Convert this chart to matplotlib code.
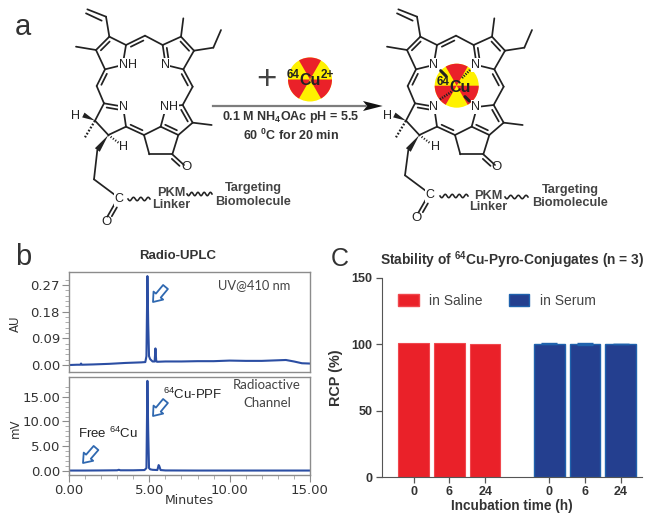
import numpy as np
import matplotlib
matplotlib.use('Agg')
import matplotlib.pyplot as plt
from matplotlib.patches import Wedge, Circle, Polygon, FancyArrowPatch, Patch

plt.rcParams['font.family'] = 'Liberation Sans'
plt.rcParams['mathtext.fontset'] = 'custom'
plt.rcParams['mathtext.rm'] = 'Liberation Sans'
plt.rcParams['mathtext.bf'] = 'Liberation Sans:bold'
plt.rcParams['mathtext.it'] = 'Liberation Sans:italic'

W, H = 648, 518

# panel b, UV trace
uv_time = [0, 0.5, 0.7, 0.75, 0.8, 1.5, 2.5, 3.5, 4.5, 4.75, 4.82, 4.88, 4.93, 4.98, 5.05, 5.2,
           5.33, 5.38, 5.43, 5.5, 6, 7, 8, 9, 10, 11, 12, 13, 13.5, 14, 14.5, 15]
uv_au = [0.0, 0.001, 0.001, 0.005, 0.001, 0.002, 0.004, 0.007, 0.009, 0.01, 0.03, 0.30, 0.14, 0.03, 0.02, 0.012,
         0.012, 0.056, 0.012, 0.011, 0.012, 0.012, 0.013, 0.013, 0.015, 0.014, 0.014, 0.016, 0.017, 0.012, 0.006, 0.005]

# panel b, radioactive trace
rad_time = [0, 1, 2, 3, 3.1, 3.2, 4, 4.7, 4.82, 4.88, 4.93, 4.98, 5.05, 5.2, 5.5, 5.58, 5.62, 5.7, 6, 8, 10, 12, 15]
rad_mv = [0.1, 0.1, 0.12, 0.15, 0.25, 0.15, 0.15, 0.2, 0.6, 18.2, 8.0, 0.6, 0.35, 0.25, 0.2, 1.2, 1.0, 0.2, 0.12, 0.1, 0.1, 0.1, 0.1]

# panel c
bar_pos = [0, 1, 2, 3.8, 4.8, 5.8]
saline = [100.7, 100.9, 100.4]
serum = [100.4, 100.2, 100.2]
serum_err = [0.1, 0.7, 0.1]
bar_labels = ['0', '6', '24', '0', '6', '24']

BLUE = '#2b4ea3'
RED = '#ea2129'
YEL = '#fff100'
DARK = '#222222'
GREY = '#7d7d7d'


def box(x0, y0, x1, y1):
    return [x0 / W, 1 - y1 / H, (x1 - x0) / W, (y1 - y0) / H]


fig = plt.figure(figsize=(6.48, 5.18), dpi=100)

# ---- panel b
ax1 = fig.add_axes(box(69, 272.3, 310, 371.7))
ax1.plot(uv_time, uv_au, color=BLUE, lw=1.5)
ax1.set_xlim(0, 15)
ax1.set_ylim(-0.0225, 0.3128)
ax1.set_yticks([0, 0.09, 0.18, 0.27])
ax1.set_yticklabels(['0.00', '0.09', '0.18', '0.27'])
ax1.set_yticks(np.arange(0, 0.3, 0.018), minor=True)
ax1.set_xticks([])

ax2 = fig.add_axes(box(69, 376.7, 310, 475))
ax2.plot(rad_time, rad_mv, color=BLUE, lw=1.5)
ax2.set_xlim(0, 15)
ax2.set_ylim(-0.8, 19.04)
ax2.set_yticks([0, 5, 10, 15])
ax2.set_yticklabels(['0.00', '5.00', '10.00', '15.00'])
ax2.set_yticks(np.arange(0, 18, 1), minor=True)
ax2.set_xticks([0, 5, 10, 15])
ax2.set_xticklabels(['0.00', '5.00', '10.00', '15.00'])
ax2.set_xticks(np.arange(0, 15, 1), minor=True)
ax2.set_xlabel('Minutes', family='DejaVu Sans', fontsize=9, color='#333333', labelpad=-2)

for ax in (ax1, ax2):
    for s in ax.spines.values():
        s.set_color('#8c8c8c')
        s.set_linewidth(1.0)
    ax.tick_params(which='major', length=5, width=0.8, color='#8c8c8c', labelsize=9.5, labelcolor='#333333', pad=1.5)
    ax.tick_params(which='minor', length=3, width=0.6, color='#a0a0a0')
    for t in ax.get_xticklabels() + ax.get_yticklabels():
        t.set_family('DejaVu Sans')
ax1.set_ylabel('AU', family='DejaVu Sans', fontsize=8.5, color='#333333')
ax2.set_ylabel('mV', family='DejaVu Sans', fontsize=8.5, color='#333333')
ax1.yaxis.set_label_coords(-47 / 241, 0.48)
ax2.yaxis.set_label_coords(-47 / 241, 0.48)

# ---- panel c
ax3 = fig.add_axes(box(381.7, 277.7, 641.7, 477))
ax3.bar(bar_pos[:3], saline, width=0.86, color=RED, edgecolor='#f0484e', lw=0.8)
ax3.bar(bar_pos[3:], serum, width=0.86, color='#243f8f', edgecolor='#1f62ad', lw=1.0,
        yerr=serum_err, ecolor='#1f62ad', capsize=6, error_kw={'lw': 0.8})
ax3.set_xlim(-0.9, 6.39)
ax3.set_ylim(0, 150)
ax3.set_yticks([0, 50, 100, 150])
ax3.set_xticks(bar_pos)
ax3.set_xticklabels(bar_labels)
ax3.spines['top'].set_visible(False)
ax3.spines['right'].set_visible(False)
ax3.spines['left'].set_color('#555555')
ax3.spines['bottom'].set_color('#555555')
ax3.tick_params(length=4, width=0.9, color='#555555', labelsize=9, labelcolor='#333333', pad=2.5)
for t in ax3.get_xticklabels() + ax3.get_yticklabels():
    t.set_fontweight('bold')
ax3.set_xlabel('Incubation time (h)', fontsize=9.8, fontweight='bold', color='#333333', labelpad=1)
ax3.set_ylabel('RCP (%)', fontsize=10.4, fontweight='bold', color='#333333')
ax3.yaxis.set_label_coords(-39 / 260, 0.5)
ax3.legend(handles=[Patch(facecolor=RED, edgecolor='#f0484e', label='in Saline'),
                    Patch(facecolor='#243f8f', edgecolor='#1f62ad', label='in Serum')],
           loc='upper left', bbox_to_anchor=(0.063, 0.92), ncol=2, frameon=False, fontsize=10,
           labelcolor='#444444', handlelength=1.5, handleheight=0.9, handletextpad=0.75,
           columnspacing=1.85, borderpad=0, borderaxespad=0)

# ---- overlay in pixel coordinates for the scheme and labels
ov = fig.add_axes([0, 0, 1, 1], zorder=10)
ov.set_xlim(0, W)
ov.set_ylim(H, 0)
ov.axis('off')


def line(p, q, dx=0, dy=0, lw=1.25, color=DARK, **kw):
    ov.plot([p[0] / 3 + dx, q[0] / 3 + dx], [p[1] / 3 + dy, q[1] / 3 + dy], color=color, lw=lw,
            solid_capstyle='round', **kw)


def double(p, q, toward, dx=0, dy=0):
    line(p, q, dx, dy)
    p_, q_, t = np.array(p, float), np.array(q, float), np.array(toward, float)
    d = q_ - p_
    n = np.array([-d[1], d[0]]) / np.hypot(*d)
    if np.dot(n, t - p_) < 0:
        n = -n
    a = p_ + 0.17 * d + 11 * n
    b = q_ - 0.17 * d + 11 * n
    line(a, b, dx, dy)


def wedge(tip, end, width, dx=0, dy=0, color=DARK):
    tip_, end_ = np.array(tip, float), np.array(end, float)
    d = end_ - tip_
    n = np.array([-d[1], d[0]]) / np.hypot(*d) * width
    pts = np.array([tip_, end_ + n, end_ - n]) / 3 + [dx, dy]
    ov.add_patch(Polygon(pts, closed=True, color=color, lw=0))


def squiggle(x0, x1, y):
    xs = np.linspace(x0, x1, 60)
    n = max(2, round((x1 - x0) / 7))
    ov.plot(xs, y + 1.7 * np.sin((xs - x0) / (x1 - x0) * n * 2 * np.pi), color=DARK, lw=1.15)


def label(x, y, s, size=9, **kw):
    kw.setdefault('color', DARK)
    kw.setdefault('ha', 'center')
    kw.setdefault('va', 'center')
    return ov.text(x, y, s, fontsize=size, **kw)


def porphyrin(dx, free_base, tail_dy):
    a = (330, 160)   # ring centres, zoomed pixels
    b = (535, 160)
    c = (530, 360)
    d = (330, 360)
    # vinyl and ring A
    line((318, 50), (328, 110), dx)
    line((318, 50), (262, 28), dx)
    line((305, 62), (258, 40), dx)
    double((328, 110), (288, 150), a, dx)
    line((228, 140), (288, 150), dx)
    line((288, 150), (315, 208), dx)
    line((315, 208), (368, 195), dx)
    line((378, 135), (368, 195), dx)
    line((328, 110), (378, 135), dx)
    double((378, 135), (435, 107), (435, 160), dx)
    # ring B
    line((435, 107), (488, 135), dx)
    line((488, 135), (543, 110), dx)
    double((488, 135), (497, 195), b, dx)
    line((543, 110), (550, 55), dx)
    double((543, 110), (582, 152), b, dx)
    line((582, 152), (640, 143), dx)
    line((640, 143), (663, 90), dx)
    line((582, 152), (550, 208), dx)
    line((550, 208), (497, 195), dx)
    double((550, 208), (578, 260), (520, 250), dx)
    line((578, 260), (548, 315), dx)
    # ring C and the five ring
    line((548, 315), (505, 320), dx)
    double((548, 315), (578, 368), c, dx)
    line((578, 368), (635, 375), dx)
    line((578, 368), (535, 405), dx)
    double((535, 405), (482, 380), (520, 360), dx)
    line((482, 380), (497, 325), dx)
    line((482, 380), (432, 405), dx)
    line((432, 405), (448, 463), dx)
    line((448, 463), (517, 463), dx)
    line((517, 463), (535, 405), dx)
    double((517, 463), (552, 495), (500, 490), dx)
    # ring D
    double((432, 405), (378, 380), (420, 350), dx)
    line((378, 380), (325, 405), dx)
    line((378, 380), (370, 325), dx)
    line((325, 405), (285, 362), dx)
    line((285, 362), (312, 310), dx)
    double((312, 310), (370, 320), d, dx)
    line((312, 310), (290, 258), dx)
    double((290, 258), (315, 208), (340, 250), dx)
    # stereo bonds and the tail
    wedge((285, 362), (250, 345), 8, dx)
    line((285, 362), (255, 412), dx, lw=1.6, ls=(0, (0.8, 0.8)))
    line((325, 405), (358, 430), dx, lw=1.6, ls=(0, (0.5, 0.8)), )
    wedge((325, 405), (292, 450), 9, dx)
    line((292, 450), (282, 538 + tail_dy), dx)
    line((282, 538 + tail_dy), (345, 585 + tail_dy), dx)
    double((345, 610 + tail_dy), (322, 650 + tail_dy), (345, 650 + tail_dy), dx)
    # atoms
    white = dict(facecolor='white', edgecolor='none', pad=0.6)
    lx = dx
    if free_base:
        label(128 + lx, 65, 'NH', bbox=white)
        label(165 + lx, 65, 'N', bbox=white)
        label(123 + lx, 107, 'N', bbox=white)
        label(169 + lx, 107, 'NH', bbox=white)
    else:
        label(123 + lx, 65, 'N', bbox=white)
        label(165 + lx, 65, 'N', bbox=white)
        label(123 + lx, 107, 'N', bbox=white)
        label(165 + lx, 107, 'N', bbox=white)
    label(76 + lx, 116, 'H')
    label(124 + lx, 147, 'H')
    label(186 + lx, 167, 'O', size=9.5)
    label(119 + lx, (597 + tail_dy) / 3, 'C', bbox=white)
    label(106 + lx, (665 + tail_dy) / 3, 'O', size=9.5)


def radiation(x, y, r):
    ov.add_patch(Circle((x, y), r, color=YEL, lw=0))
    for a0 in (60, 180, 300):
        ov.add_patch(Wedge((x, y), r, -a0 - 60, -a0, color=RED, lw=0))


porphyrin(0, True, 0)
porphyrin(311, False, -12)

radiation(310, 79.5, 22)
radiation(456.7, 85.7, 22)
label(266, 80, '+', size=25, color='#444444')
label(293, 75, '64', size=8.5, fontweight='bold')
label(310.5, 80.5, 'Cu', size=11.5, fontweight='bold')
label(327, 75, '2+', size=8.5, fontweight='bold')
label(443, 82, '64', size=8.5, fontweight='bold')
label(460, 87, 'Cu', size=11.5, fontweight='bold')
# Cu-N coordination bonds, zoomed pixels
line((1322, 212), (1338, 228), lw=2.2)
line((1395, 290), (1408, 303), lw=2.2)
line((1410, 210), (1385, 235), lw=1.8, ls=(0, (0.5, 0.5)))
line((1320, 298), (1355, 275), lw=1.8, ls=(0, (0.5, 0.5)))

# reaction arrow
ov.plot([212.7, 366], [106, 106], color=GREY, lw=1.6)
ov.add_patch(Polygon([[382.7, 106], [363, 101], [367, 106], [363, 111]], closed=True, color='#111111', lw=0))
label(291, 117, r'0.1 M NH$\mathbf{_4}$OAc pH = 5.5', size=9, fontweight='bold', color='#333333')
label(291, 135, r'60 $\mathbf{^0}$C for 20 min', size=9, fontweight='bold', color='#333333')

# linker text
for x_pkm, y_pkm, y_lnk, x_t, y_t, y_b in [(171, 193, 205, 253, 188, 202), (488, 196, 207, 570, 190, 203)]:
    label(x_pkm, y_pkm, 'PKM', size=9.2, color='#444444', fontweight='bold')
    label(x_pkm, y_lnk, 'Linker', size=9.2, color='#444444', fontweight='bold')
    label(x_t, y_t, 'Targeting', size=9.2, color='#444444', fontweight='bold')
    label(x_t, y_b, 'Biomolecule', size=9.2, color='#444444', fontweight='bold')
squiggle(128, 150, 199)
squiggle(187, 212, 194)
squiggle(440, 468, 196)
squiggle(505, 528, 197)

# panel letters and titles
label(23, 27, 'a', size=21, color='#333333')
label(23, 257, 'b', size=21, color='#333333')
label(340, 259, 'C', size=18, color='#333333')
label(178, 256, 'Radio-UPLC', size=9.5, fontweight='bold', color='#333333')
label(512, 260, r'Stability of $\mathbf{^{64}}$Cu-Pyro-Conjugates (n = 3)', size=9.9, fontweight='bold', color='#333333')

# panel b annotations
label(254, 285, 'UV@410 nm', size=9.3, family='Lato', color='#444444')
label(267, 385, 'Radioactive', size=9.5, family='Lato', color='#444444')
label(267, 403, 'Channel', size=9.5, family='Lato', color='#444444')
label(193, 394, r'$^{64}$Cu-PPF', size=9.5, color='#222222')
label(108, 433, r'Free $^{64}$Cu', size=9.5, color='#222222')
for p, q in [((165.5, 287), (153, 302)), ((165.5, 401), (153, 416)), ((96, 448), (83, 463))]:
    ov.add_patch(FancyArrowPatch(p, q, arrowstyle='simple,head_length=6,head_width=9,tail_width=4.5',
                                 mutation_scale=1, facecolor='white', edgecolor='#2f68b0', lw=1.3,
                                 shrinkA=0, shrinkB=0))

fig.savefig('out.png', dpi=100)
